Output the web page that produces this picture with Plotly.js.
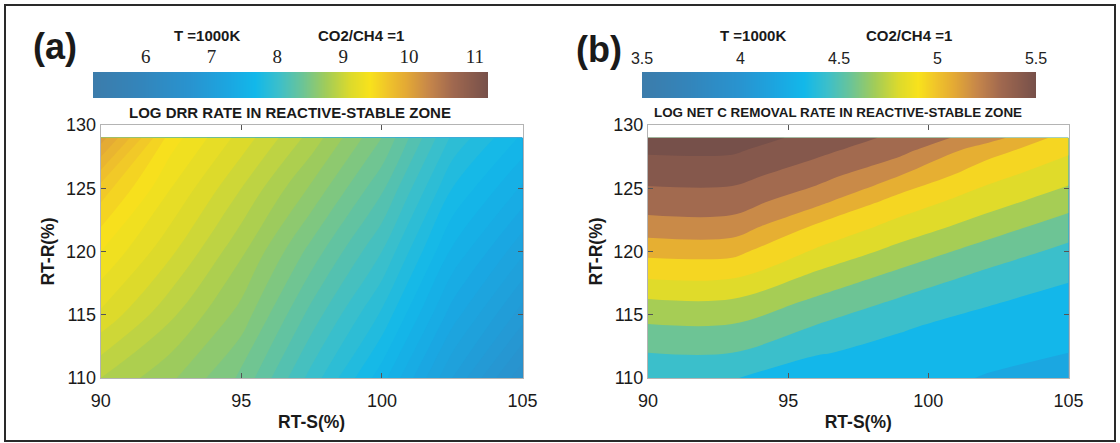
<!DOCTYPE html>
<html><head><meta charset="utf-8">
<script src="https://cdn.plot.ly/plotly-3.0.1.min.js"></script>
<style>html,body{margin:0;padding:0;background:#fff}#chart{width:1120px;height:443px}</style>
</head><body><div id="chart"></div>
<script>
// ---------- data ----------
// Panel (a): log DRR rate, RT-S (%) columns x RT-R (%) rows
const rtS_A = [90, 92.5, 95, 97.5, 100, 102.5, 105];
const rtR_A = [110, 115, 120, 125, 129];
const logDRR = [
  [8.80, 8.62, 8.38, 7.96, 7.54, 7.00, 6.52],
  [9.08, 8.82, 8.56, 8.16, 7.78, 7.25, 6.85],
  [9.30, 9.02, 8.72, 8.36, 8.00, 7.48, 7.12],
  [9.56, 9.20, 8.90, 8.58, 8.22, 7.70, 7.38],
  [9.95, 9.35, 9.06, 8.76, 8.40, 7.88, 7.58]
];
// Panel (b): log net C removal rate
const rtS_B = [90, 93, 96, 99, 102, 105];
const rtR_B = [110, 112, 114, 116, 118, 120, 122, 124, 126, 128, 129];
const logNetC = [
  [4.381, 4.381, 4.308, 4.305, 4.243, 4.210],
  [4.500, 4.500, 4.383, 4.342, 4.289, 4.250],
  [4.609, 4.609, 4.489, 4.384, 4.335, 4.294],
  [4.731, 4.731, 4.598, 4.479, 4.386, 4.337],
  [4.889, 4.889, 4.719, 4.586, 4.470, 4.387],
  [5.036, 5.036, 4.857, 4.706, 4.574, 4.465],
  [5.199, 5.199, 4.984, 4.831, 4.694, 4.563],
  [5.315, 5.315, 5.167, 4.949, 4.811, 4.681],
  [5.417, 5.417, 5.303, 5.125, 4.919, 4.795],
  [5.518, 5.518, 5.408, 5.290, 5.059, 4.894],
  [5.563, 5.563, 5.462, 5.343, 5.188, 4.942]
];
// colour bar ranges and ticks
const cbRangeA = [5.2, 11.2];
const cbTicksA = [6, 7, 8, 9, 10, 11];
const cbRangeB = [3.5, 5.5];
const cbTicksB = [3.5, 4, 4.5, 5, 5.5];
const levelStepB = 0.125;
const xTicks = [90, 95, 100, 105];
const yTicks = [110, 115, 120, 125, 130];

// ---------- styling ----------
const W = 1120, H = 443;
const px = v => v / W;
const py = v => 1 - v / H;
const SANS = 'Liberation Sans, Arial, sans-serif';
const SERIF = 'Liberation Serif, Times New Roman, serif';

const CMAP = [[0,'#3c7cab'],[0.12,'#3385bb'],[0.25,'#2894d0'],[0.35,'#1aa8e2'],[0.41,'#12b8ea'],
  [0.47,'#3cbfca'],[0.53,'#6cc496'],[0.59,'#a2cc58'],[0.65,'#dcda2c'],[0.7,'#f8e21c'],
  [0.745,'#f0c42a'],[0.79,'#e4aa34'],[0.85,'#c6864a'],[0.91,'#a0684f'],[1,'#76504a']];

const traces = [
  { type: 'contour', x: rtS_A, y: rtR_A, z: logDRR, xaxis: 'x', yaxis: 'y',
    colorscale: CMAP, zmin: cbRangeA[0], zmax: cbRangeA[1], showscale: false,
    contours: { start: cbRangeA[0], end: cbRangeA[1], size: 0.1, coloring: 'fill', showlines: false },
    line: { width: 0 }, hoverinfo: 'skip' },
  { type: 'contour', x: rtS_B, y: rtR_B, z: logNetC, xaxis: 'x2', yaxis: 'y2',
    colorscale: CMAP, zmin: cbRangeB[0], zmax: cbRangeB[1], showscale: false,
    contours: { start: cbRangeB[0], end: cbRangeB[1], size: levelStepB, coloring: 'fill', showlines: false },
    line: { width: 0 }, hoverinfo: 'skip' },
  // colour bars
  { type: 'heatmap', x: cbRangeA, y: [0, 1], z: [cbRangeA, cbRangeA], zsmooth: 'best',
    colorscale: CMAP, zmin: cbRangeA[0], zmax: cbRangeA[1], showscale: false,
    xaxis: 'x3', yaxis: 'y3', hoverinfo: 'skip' },
  { type: 'heatmap', x: cbRangeB, y: [0, 1], z: [cbRangeB, cbRangeB], zsmooth: 'best',
    colorscale: CMAP, zmin: cbRangeB[0], zmax: cbRangeB[1], showscale: false,
    xaxis: 'x4', yaxis: 'y4', hoverinfo: 'skip' }
];

const axBase = {
  showline: true, linecolor: '#b4b4b4', linewidth: 1, mirror: 'ticks',
  ticks: 'inside', ticklen: 5, tickwidth: 1, tickcolor: '#555',
  showgrid: false, zeroline: false,
  tickfont: { family: SANS, size: 18, color: '#1a1a1a' }
};
const xTitle = { text: '<b>RT-S(%)</b>', font: { family: SANS, size: 17.5, color: '#1a1a1a' }, standoff: 6 };
const yTitle = { text: '<b>RT-R(%)</b>', font: { family: SANS, size: 17.5, color: '#1a1a1a' }, standoff: 6 };
const yDom = [py(378), py(125)];

const cbAxisY = { domain: [py(98), py(72)], range: [0, 1], visible: false, fixedrange: true };

const layout = {
  width: W, height: H,
  margin: { l: 0, r: 0, t: 0, b: 0 },
  paper_bgcolor: '#ffffff', plot_bgcolor: '#ffffff',
  showlegend: false,
  xaxis: Object.assign({}, axBase, { domain: [px(100.7), px(522.5)], range: [90, 105], tickvals: xTicks, anchor: 'y', title: xTitle, ticklabelstandoff: 6 }),
  yaxis: Object.assign({}, axBase, { domain: yDom, range: [110, 130], tickvals: yTicks, anchor: 'x', title: yTitle }),
  xaxis2: Object.assign({}, axBase, { domain: [px(648), px(1068.5)], range: [90, 105], tickvals: xTicks, anchor: 'y2', title: xTitle, ticklabelstandoff: 6 }),
  yaxis2: Object.assign({}, axBase, { domain: yDom, range: [110, 130], tickvals: yTicks, anchor: 'x2', title: yTitle }),
  xaxis3: { domain: [px(93), px(488)], range: cbRangeA, anchor: 'y3', side: 'top', tickvals: cbTicksA,
    ticks: '', showline: false, showgrid: false, zeroline: false, fixedrange: true, ticklabelstandoff: 4,
    tickfont: { family: SERIF, size: 19, color: '#222' } },
  yaxis3: Object.assign({ anchor: 'x3' }, cbAxisY),
  xaxis4: { domain: [px(642), px(1036)], range: cbRangeB, anchor: 'y4', side: 'top', tickvals: cbTicksB,
    ticks: '', showline: false, showgrid: false, zeroline: false, fixedrange: true, ticklabelstandoff: 4,
    tickfont: { family: SANS, size: 16, color: '#222' } },
  yaxis4: Object.assign({ anchor: 'x4' }, cbAxisY),
  annotations: [
    { text: '<b>(a)</b>', x: px(55), y: py(47), font: { family: SANS, size: 36, color: '#1a1a1a' } },
    { text: '<b>(b)</b>', x: px(599), y: py(49), font: { family: SANS, size: 36, color: '#1a1a1a' } },
    { text: '<b>T =1000K</b>', x: px(207), y: py(35), font: { family: SANS, size: 15, color: '#1a1a1a' } },
    { text: '<b>CO2/CH4 =1</b>', x: px(361), y: py(35), font: { family: SANS, size: 15, color: '#1a1a1a' } },
    { text: '<b>T =1000K</b>', x: px(753), y: py(35), font: { family: SANS, size: 15, color: '#1a1a1a' } },
    { text: '<b>CO2/CH4 =1</b>', x: px(909), y: py(35), font: { family: SANS, size: 15, color: '#1a1a1a' } },
    { text: '<b>LOG DRR RATE IN REACTIVE-STABLE ZONE</b>', x: px(290), y: py(113), font: { family: SANS, size: 15, color: '#1a1a1a' } },
    { text: '<b>LOG NET C REMOVAL RATE IN REACTIVE-STABLE ZONE</b>', x: px(838), y: py(113), font: { family: SANS, size: 13.4, color: '#1a1a1a' } }
  ].map(a => Object.assign({ xref: 'paper', yref: 'paper', xanchor: 'center', yanchor: 'middle', showarrow: false }, a)),
  shapes: [
    { type: 'rect', xref: 'paper', yref: 'paper', x0: px(5), x1: px(1115), y0: py(441), y1: py(5),
      line: { color: '#2a2a2a', width: 2 }, fillcolor: 'rgba(0,0,0,0)' }
  ]
};

Plotly.newPlot('chart', traces, layout, { staticPlot: true, displayModeBar: false });
</script>
</body></html>
